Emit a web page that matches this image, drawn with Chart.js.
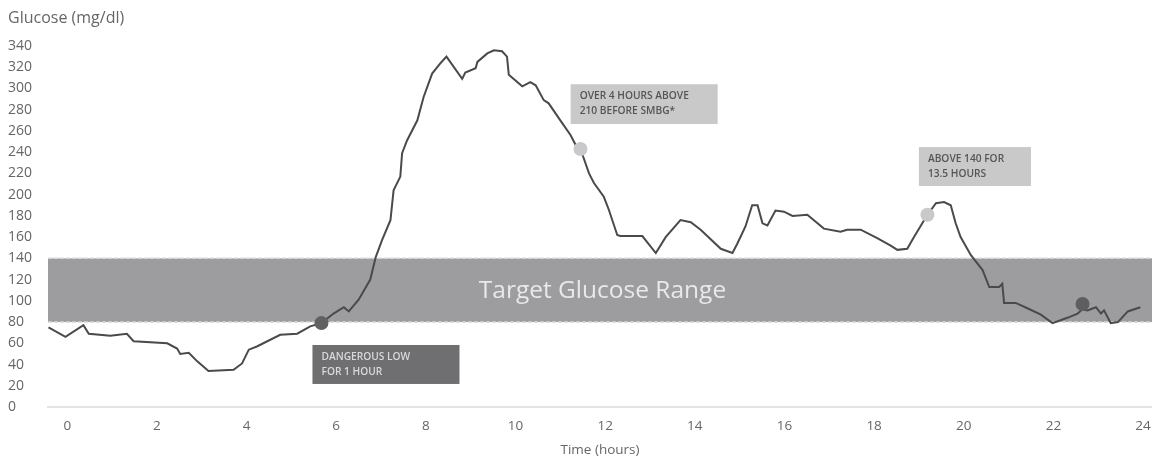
<!DOCTYPE html>
<html lang="en">
<head>
    <meta charset="UTF-8">
    <title>Glucose Profile</title>
    <script src="https://cdn.jsdelivr.net/npm/chart.js"></script>
    <style>
        html, body {
            margin: 0;
            padding: 0;
            background: #ffffff;
        }

        #wrap {
            width: 1152px;
            height: 456px;
        }
    </style>
</head>
<body>
    <div id="wrap">
        <canvas id="glucoseChart"></canvas>
    </div>

    <script>
        // CGM trace over 24 hours
        var hours = [
            -0.42, -0.04, 0.36, 0.48, 0.96, 1.33, 1.48, 2.23, 2.45, 2.52, 2.71, 2.90, 3.15, 3.71, 3.90,
            4.05, 4.23, 4.75, 5.13, 5.42, 5.67, 5.94, 6.17, 6.28, 6.50, 6.76, 6.88, 7.02, 7.21, 7.28,
            7.43, 7.47, 7.58, 7.81, 7.95, 8.14, 8.33, 8.46, 8.81, 8.88, 9.11, 9.15, 9.37, 9.52, 9.70,
            9.81, 9.85, 10.15, 10.33, 10.45, 10.63, 10.74, 11.00, 11.23, 11.34, 11.45, 11.64, 11.75,
            11.97, 12.08, 12.27, 12.34, 12.83, 13.13, 13.35, 13.68, 13.91, 14.13, 14.58, 14.84, 14.95,
            15.13, 15.28, 15.40, 15.51, 15.62, 15.80, 15.99, 16.18, 16.51, 16.88, 17.25, 17.40, 17.70,
            18.07, 18.37, 18.52, 18.74, 18.89, 19.19, 19.38, 19.56, 19.71, 19.82, 19.93, 20.16, 20.42,
            20.57, 20.79, 20.86, 20.90, 21.16, 21.42, 21.72, 21.98, 22.31, 22.54, 22.65, 22.76, 22.95,
            23.06, 23.13, 23.28, 23.44, 23.66, 23.94
        ];
        var glucose = [
            75, 66, 77, 69, 67, 69, 62, 60, 55, 50, 51, 43, 34, 35, 41,
            54, 57, 68, 69, 76, 79, 88, 94, 90, 101, 120, 141, 157, 176, 204,
            217, 239, 251, 270, 292, 314, 324, 330, 309, 315, 319, 325, 333, 336, 335,
            330, 313, 302, 306, 303, 289, 286, 270, 256, 247, 243, 220, 211,
            198, 186, 162, 161, 161, 145, 160, 176, 174, 167, 149, 145, 154,
            170, 190, 190, 173, 171, 185, 184, 180, 181, 168, 165, 167, 167,
            159, 152, 148, 149, 160, 181, 192, 193, 190, 173, 160, 143, 129,
            113, 113, 116, 98, 98, 93, 87, 79, 84, 88, 92, 91, 94,
            88, 91, 79, 80, 90, 94
        ];

        // highlighted readings
        var markerHours = [5.67, 11.45, 19.19, 22.65];
        var markerGlucose = [79, 243, 181, 97];
        var markerColors = ['#616163', '#c9c9cb', '#c9c9cb', '#5e5e60'];

        var xTicks = [0, 2, 4, 6, 8, 10, 12, 14, 16, 18, 20, 22, 24];
        var yTicks = [0, 20, 40, 60, 80, 100, 120, 140, 160, 180, 200, 220, 240, 260, 280, 300, 320, 340];

        var targetLow = 80;
        var targetHigh = 140;

        // callout boxes: [xFrom, xTo, yTop, yBottom] in hours / mg/dl
        var callouts = [
            { box: [5.47, 8.75, 58.4, 21.7], lines: ['DANGEROUS LOW', 'FOR 1 HOUR'], fill: '#6f6f71', text: '#d9d9da' },
            { box: [11.23, 14.51, 304, 266.5], lines: ['OVER 4 HOURS ABOVE', '210 BEFORE SMBG*'], fill: '#c9c9ca', text: '#555557' },
            { box: [19.0, 21.5, 244.8, 208.1], lines: ['ABOVE 140 FOR', '13.5 HOURS'], fill: '#c9c9ca', text: '#555557' }
        ];

        var fontFamily = "'Open Sans', 'DejaVu Sans', sans-serif";

        var tracePoints = hours.map(function (h, i) { return { x: h, y: glucose[i] }; });
        var markerPoints = markerHours.map(function (h, i) { return { x: h, y: markerGlucose[i] }; });

        // target band + its label, drawn under the trace
        var bandPlugin = {
            id: 'targetBand',
            beforeDatasetsDraw: function (chart) {
                var ctx = chart.ctx;
                var area = chart.chartArea;
                var y = chart.scales.y;
                var x = chart.scales.x;
                var top = y.getPixelForValue(targetHigh);
                var bottom = y.getPixelForValue(targetLow);

                ctx.save();
                ctx.fillStyle = '#9d9da0';
                ctx.fillRect(area.left, top, chart.width - area.left, bottom - top);

                ctx.strokeStyle = '#d6d6d8';
                ctx.lineWidth = 1.5;
                ctx.setLineDash([4, 2]);
                ctx.beginPath();
                ctx.moveTo(area.left, top);
                ctx.lineTo(chart.width, top);
                ctx.moveTo(area.left, bottom);
                ctx.lineTo(chart.width, bottom);
                ctx.stroke();
                ctx.setLineDash([]);

                ctx.fillStyle = '#e9e9ea';
                ctx.font = '24.5px ' + fontFamily;
                ctx.textAlign = 'center';
                ctx.textBaseline = 'middle';
                ctx.fillText('Target Glucose Range', x.getPixelForValue(11.94), (top + bottom) / 2 + 1);
                ctx.restore();
            }
        };

        // callouts and the y axis caption
        var notesPlugin = {
            id: 'notes',
            afterDatasetsDraw: function (chart) {
                var ctx = chart.ctx;
                var x = chart.scales.x;
                var y = chart.scales.y;

                ctx.save();
                callouts.forEach(function (c) {
                    var left = x.getPixelForValue(c.box[0]);
                    var right = x.getPixelForValue(c.box[1]);
                    var top = y.getPixelForValue(c.box[2]);
                    var bottom = y.getPixelForValue(c.box[3]);
                    ctx.fillStyle = c.fill;
                    ctx.fillRect(left, top, right - left, bottom - top);

                    ctx.fillStyle = c.text;
                    ctx.font = '600 10.2px ' + fontFamily;
                    ctx.textAlign = 'left';
                    ctx.textBaseline = 'middle';
                    c.lines.forEach(function (line, i) {
                        ctx.fillText(line, left + 9, top + 12 + i * 15);
                    });
                });

                ctx.fillStyle = '#666668';
                ctx.font = '16px ' + fontFamily;
                ctx.textAlign = 'left';
                ctx.textBaseline = 'middle';
                ctx.fillText('Glucose (mg/dl)', 8, 18);
                ctx.restore();
            }
        };

        var config = {
            type: 'line',
            data: {
                datasets: [
                    {
                        label: 'Markers',
                        data: markerPoints,
                        showLine: false,
                        pointRadius: 7,
                        pointBackgroundColor: markerColors,
                        pointBorderWidth: 0,
                        order: 0
                    },
                    {
                        label: 'Glucose',
                        data: tracePoints,
                        borderColor: '#4a4a4c',
                        borderWidth: 2,
                        pointRadius: 0,
                        tension: 0,
                        fill: false,
                        order: 1
                    }
                ]
            },
            options: {
                responsive: true,
                maintainAspectRatio: false,
                animation: false,
                layout: {
                    autoPadding: false,
                    padding: { top: 46, left: 8, right: 0, bottom: 0 }
                },
                plugins: {
                    legend: { display: false },
                    tooltip: { enabled: false }
                },
                scales: {
                    x: {
                        type: 'linear',
                        bounds: 'data',
                        min: -0.43,
                        max: 24.2,
                        grid: { display: false },
                        border: { display: true, color: '#e4e4e6', width: 2 },
                        afterBuildTicks: function (scale) {
                            scale.ticks = xTicks.map(function (v) { return { value: v }; });
                        },
                        afterFit: function (scale) {
                            scale.height = 49;
                            scale.paddingLeft = 0;
                            scale.paddingRight = 0;
                        },
                        ticks: {
                            color: '#666668',
                            font: { size: 13.5, family: fontFamily },
                            padding: 3,
                            maxRotation: 0,
                            autoSkip: false
                        },
                        title: {
                            display: true,
                            text: 'Time (hours)',
                            color: '#666668',
                            font: { size: 13.5, family: fontFamily },
                            padding: { top: 0, bottom: -2 }
                        }
                    },
                    y: {
                        min: 0,
                        max: 340,
                        grid: { display: false },
                        border: { display: false },
                        afterBuildTicks: function (scale) {
                            scale.ticks = yTicks.map(function (v) { return { value: v }; });
                        },
                        afterFit: function (scale) {
                            scale.width = 40;
                        },
                        ticks: {
                            color: '#666668',
                            font: { size: 14, family: fontFamily },
                            crossAlign: 'far',
                            autoSkip: false
                        }
                    }
                }
            },
            plugins: [bandPlugin, notesPlugin]
        };

        var ctx = document.getElementById('glucoseChart').getContext('2d');
        window.glucoseChart = new Chart(ctx, config);
    </script>
</body>
</html>
